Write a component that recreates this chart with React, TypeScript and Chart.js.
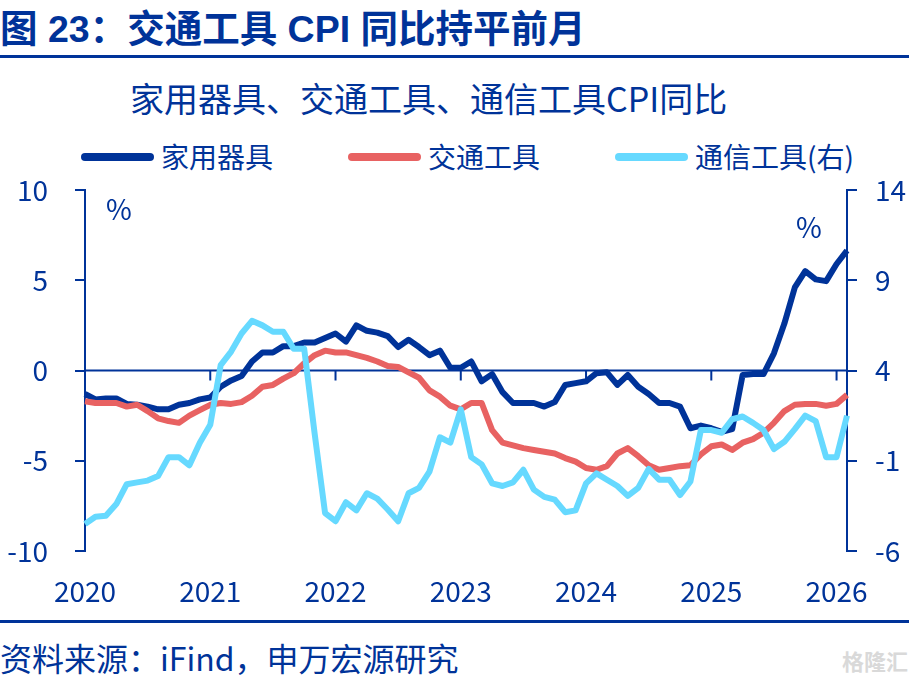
import React, { useEffect, useRef } from "react";
import { Chart, registerables } from "chart.js";

Chart.register(...registerables);

const months = [
  "2020-01", "2020-02", "2020-03", "2020-04", "2020-05", "2020-06", "2020-07", "2020-08", "2020-09", "2020-10", "2020-11", "2020-12",
  "2021-01", "2021-02", "2021-03", "2021-04", "2021-05", "2021-06", "2021-07", "2021-08", "2021-09", "2021-10", "2021-11", "2021-12",
  "2022-01", "2022-02", "2022-03", "2022-04", "2022-05", "2022-06", "2022-07", "2022-08", "2022-09", "2022-10", "2022-11", "2022-12",
  "2023-01", "2023-02", "2023-03", "2023-04", "2023-05", "2023-06", "2023-07", "2023-08", "2023-09", "2023-10", "2023-11", "2023-12",
  "2024-01", "2024-02", "2024-03", "2024-04", "2024-05", "2024-06", "2024-07", "2024-08", "2024-09", "2024-10", "2024-11", "2024-12",
  "2025-01", "2025-02", "2025-03", "2025-04", "2025-05", "2025-06", "2025-07", "2025-08", "2025-09", "2025-10", "2025-11", "2025-12",
  "2026-01", "2026-02",
];

// 家用器具 CPI 同比 (%), left axis
const household = [
  -1.3, -1.6, -1.55, -1.55, -1.85, -1.9, -2.0, -2.15, -2.15, -1.9, -1.8, -1.6,
  -1.5, -0.9, -0.55, -0.3, 0.5, 1.0, 1.0, 1.35, 1.35, 1.55, 1.55, 1.8,
  2.05, 1.6, 2.5, 2.2, 2.1, 1.9, 1.3, 1.7, 1.3, 0.85, 1.1, 0.15,
  0.15, 0.5, -0.6, -0.2, -1.2, -1.8, -1.8, -1.8, -2.0, -1.75, -0.8, -0.7,
  -0.6, -0.15, -0.1, -0.8, -0.25, -0.9, -1.3, -1.8, -1.8, -2.0, -3.2, -3.05,
  -3.2, -3.4, -3.25, -0.25, -0.2, -0.2, 0.95, 2.6, 4.6, 5.5, 5.05, 4.95,
  5.9, 6.65,
];

// 交通工具 CPI 同比 (%), left axis
const transport = [
  -1.7, -1.8, -1.8, -1.8, -2.0, -1.9, -2.25, -2.65, -2.8, -2.9, -2.5, -2.2,
  -1.9, -1.8, -1.85, -1.75, -1.4, -0.9, -0.8, -0.45, -0.15, 0.4, 0.85, 1.1,
  1.0, 1.0, 0.85, 0.7, 0.5, 0.25, 0.2, -0.1, -0.4, -1.1, -1.45, -1.95,
  -2.15, -1.8, -1.8, -3.3, -4.0, -4.15, -4.3, -4.4, -4.5, -4.6, -4.85, -5.05,
  -5.4, -5.5, -5.3, -4.6, -4.3, -4.75, -5.25, -5.5, -5.4, -5.3, -5.25, -4.65,
  -4.2, -4.1, -4.4, -4.0, -3.8, -3.45, -2.9, -2.25, -1.9, -1.85, -1.85, -1.95,
  -1.85, -1.35,
];

// 通信工具 CPI 同比 (%), right axis
const telecom = [
  -4.5, -4.1, -4.05, -3.4, -2.3, -2.2, -2.1, -1.85, -0.8, -0.8, -1.25, 0.0,
  1.0, 4.3, 5.05, 6.05, 6.75, 6.5, 6.15, 6.15, 5.2, 5.2, 0.5, -3.9,
  -4.35, -3.3, -3.75, -2.8, -3.1, -3.7, -4.35, -2.8, -2.5, -1.6, 0.3, 0.0,
  1.85, -0.8, -1.2, -2.25, -2.4, -2.2, -1.5, -2.6, -3.0, -3.15, -3.85, -3.75,
  -2.25, -1.7, -2.05, -2.4, -2.95, -2.5, -1.45, -2.05, -2.05, -2.9, -2.15, 0.7,
  0.7, 0.55, 1.3, 1.45, 1.1, 0.7, -0.35, 0.05, 0.75, 1.5, 1.2, -0.8,
  -0.8, 1.5,
];

const seriesNames = ["家用器具", "交通工具", "通信工具(右)"];
const seriesColors = ["#003399", "#E86262", "#66D9FF"];

const leftTicks = [-10, -5, 0, 5, 10];
const rightTicks = [-6, -1, 4, 9, 14];

const BLUE = "#003399";
const FONT = "'Noto Sans CJK SC', 'Noto Sans', sans-serif";
const HEAD_FONT = "'Liberation Sans', 'Noto Sans CJK SC', sans-serif";

const zeroLine = {
  id: "zeroLine",
  beforeDatasetsDraw(chart: any) {
    const { ctx, chartArea, scales } = chart;
    const y0 = scales.y.getPixelForValue(0);
    ctx.save();
    ctx.strokeStyle = BLUE;
    ctx.lineWidth = 2;
    ctx.beginPath();
    ctx.moveTo(chartArea.left, y0);
    ctx.lineTo(chartArea.right, y0);
    months.forEach((m, i) => {
      if (m.endsWith("-01")) {
        const px = scales.x.getPixelForValue(i);
        ctx.moveTo(px, y0);
        ctx.lineTo(px, y0 + 10);
      }
    });
    ctx.stroke();
    ctx.restore();
  },
};

// y axes: fixed width, and no extra top/bottom padding from the tick labels
const fitY = (width: number) => (s: any) => {
  s.width = width;
  s.paddingTop = 0;
  s.paddingBottom = 0;
};

const App: React.FC = () => {
  const canvasRef = useRef<HTMLCanvasElement | null>(null);
  const chartRef = useRef<Chart | null>(null);

  useEffect(() => {
    const ctx = canvasRef.current?.getContext("2d");
    if (!ctx) return;
    chartRef.current?.destroy();

    chartRef.current = new Chart(ctx, {
      type: "line",
      data: {
        labels: months,
        datasets: [
          { label: seriesNames[0], data: household, yAxisID: "y", borderColor: seriesColors[0], order: 3 },
          { label: seriesNames[1], data: transport, yAxisID: "y", borderColor: seriesColors[1], order: 2 },
          { label: seriesNames[2], data: telecom, yAxisID: "y1", borderColor: seriesColors[2], order: 1 },
        ].map((d) => ({
          ...d,
          backgroundColor: d.borderColor,
          borderWidth: 6,
          pointRadius: 0,
          tension: 0,
          borderJoinStyle: "round" as const,
          borderCapStyle: "butt" as const,
        })),
      },
      options: {
        animation: false,
        responsive: false,
        maintainAspectRatio: false,
        layout: { padding: { top: 25, left: 0, right: 0, bottom: 0 } },
        plugins: {
          legend: { display: false },
          title: { display: false },
          tooltip: { enabled: false },
        },
        scales: {
          x: {
            type: "category",
            offset: false,
            grid: { display: false, drawTicks: false },
            border: { display: false },
            ticks: {
              autoSkip: false,
              maxRotation: 0,
              padding: 24,
              color: BLUE,
              font: { family: FONT, size: 28 },
              callback: (_v: any, i: number) => (months[i].endsWith("-01") ? months[i].slice(0, 4) : ""),
            },
            afterFit: (s: any) => {
              s.height = 69;
            },
          },
          y: {
            position: "left",
            min: -10,
            max: 10,
            afterBuildTicks: (s: any) => {
              s.ticks = leftTicks.map((v) => ({ value: v }));
            },
            grid: { drawOnChartArea: false, drawTicks: true, tickLength: 10, color: BLUE, lineWidth: 2 },
            border: { display: true, color: BLUE, width: 2 },
            ticks: { padding: 27, color: BLUE, font: { family: FONT, size: 28 } },
            afterFit: fitY(85),
          },
          y1: {
            position: "right",
            min: -6,
            max: 14,
            afterBuildTicks: (s: any) => {
              s.ticks = rightTicks.map((v) => ({ value: v }));
            },
            grid: { drawOnChartArea: false, drawTicks: true, tickLength: 10, color: BLUE, lineWidth: 2 },
            border: { display: true, color: BLUE, width: 2 },
            ticks: { padding: 18, color: BLUE, font: { family: FONT, size: 28 } },
            afterFit: fitY(62),
          },
        },
      },
      plugins: [zeroLine],
    });

    return () => {
      chartRef.current?.destroy();
      chartRef.current = null;
    };
  }, []);

  const text: React.CSSProperties = {
    position: "absolute",
    color: BLUE,
    fontFamily: FONT,
    whiteSpace: "nowrap",
  };
  const legendLeft = [81, 348, 615];

  return (
    <div style={{ position: "fixed", left: 0, top: 0, width: 909, height: 675, background: "#fff", overflow: "hidden" }}>
      <div style={{ ...text, fontFamily: HEAD_FONT, left: 0, top: 10, fontSize: 37.5, lineHeight: "38px", fontWeight: 700 }}>
        图 23：交通工具 CPI 同比持平前月
      </div>
      <div style={{ position: "absolute", left: 0, top: 55, width: 909, height: 3, background: BLUE }} />
      <div style={{ ...text, left: 130, top: 81, fontSize: 34, lineHeight: "34px" }}>
        家用器具、交通工具、通信工具CPI同比
      </div>
      {seriesNames.map((name, i) => (
        <React.Fragment key={name}>
          <div
            style={{
              position: "absolute",
              left: legendLeft[i],
              top: 153,
              width: 73,
              height: 8,
              borderRadius: 4,
              background: seriesColors[i],
            }}
          />
          <div style={{ ...text, left: legendLeft[i] + 80, top: 142, fontSize: 28, lineHeight: "28px" }}>{name}</div>
        </React.Fragment>
      ))}
      <canvas
        ref={canvasRef}
        width={909}
        height={455}
        style={{ position: "absolute", left: 0, top: 165, width: 909, height: 455 }}
      />
      <div style={{ ...text, left: 106, top: 194, fontSize: 28, lineHeight: "28px" }}>%</div>
      <div style={{ ...text, left: 796, top: 212, fontSize: 28, lineHeight: "28px" }}>%</div>
      <div style={{ position: "absolute", left: 0, top: 620, width: 909, height: 3, background: BLUE }} />
      <div style={{ ...text, left: 0, top: 641, fontSize: 32, lineHeight: "32px" }}>
        资料来源：iFind，申万宏源研究
      </div>
      <div style={{ ...text, left: 842, top: 648, fontSize: 22, lineHeight: "24px", color: "#d9d9d9", fontWeight: 700 }}>
        格隆汇
      </div>
    </div>
  );
};

export default App;
